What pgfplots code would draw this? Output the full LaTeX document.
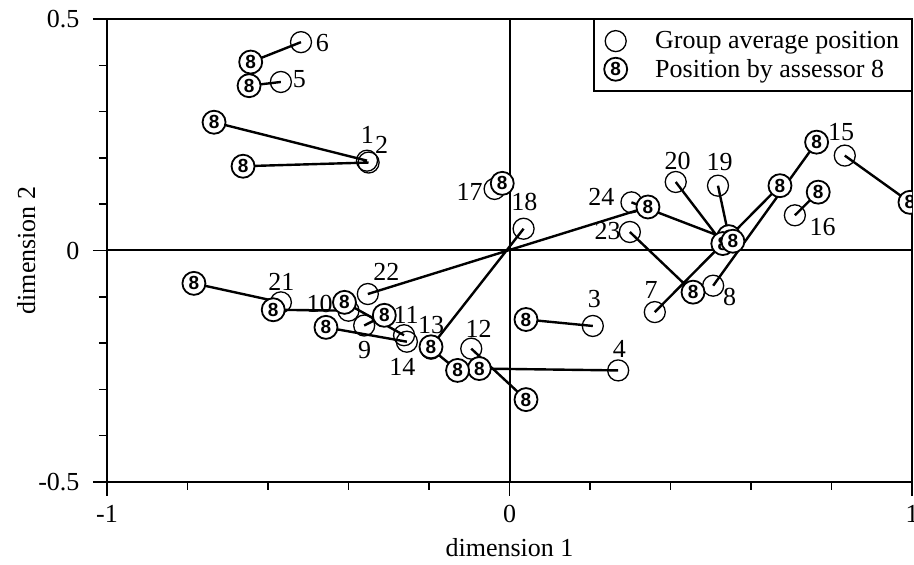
\documentclass[border=0pt]{standalone}
\usepackage{fontspec}
\setmainfont{Liberation Serif}
\newfontfamily\markfont{Liberation Sans}
\usepackage{pgfplots}
\usepackage{pgfplotstable}
\pgfplotsset{compat=1.18}

% circled "8": position given by assessor 8
\pgfdeclareplotmark{assessor}{%
  \pgfpathcircle{\pgfpointorigin}{\pgfplotmarksize}%
  \pgfusepathqfillstroke
  \pgftext{\markfont\bfseries\fontsize{19}{19}\selectfont 8}%
}

% group average positions of the 24 products
\pgfplotstableread{
x y
-0.354 0.194
-0.350 0.190
0.207 -0.163
0.270 -0.259
-0.568 0.364
-0.518 0.450
0.361 -0.133
0.506 -0.076
-0.361 -0.162
-0.400 -0.130
-0.262 -0.183
-0.095 -0.212
-0.195 -0.212
-0.255 -0.197
0.833 0.205
0.709 0.076
-0.037 0.133
0.035 0.047
0.518 0.140
0.413 0.148
-0.568 -0.112
-0.352 -0.094
0.299 0.040
0.303 0.104
}\avgpos

% positions given by assessor 8 (same product order)
\pgfplotstableread{
x y
-0.734 0.277
-0.662 0.182
0.041 -0.149
-0.075 -0.255
-0.647 0.356
-0.643 0.407
0.672 0.140
0.763 0.234
-0.311 -0.140
-0.587 -0.128
-0.410 -0.112
0.041 -0.322
-0.129 -0.259
-0.456 -0.166
0.995 0.104
0.767 0.126
-0.018 0.145
-0.195 -0.208
0.545 0.030
0.530 0.015
-0.784 -0.071
0.344 0.094
0.456 -0.090
0.555 0.020
}\assessorpos

% product numbers
\pgfplotstableread{
x y lab
-0.353 0.250 1
-0.318 0.228 2
0.211 -0.104 3
0.273 -0.212 4
-0.522 0.371 5
-0.465 0.449 6
0.352 -0.086 7
0.547 -0.101 8
-0.360 -0.216 9
-0.472 -0.115 10
-0.257 -0.140 11
-0.077 -0.169 12
-0.195 -0.160 13
-0.266 -0.252 14
0.824 0.256 15
0.778 0.050 16
-0.099 0.126 17
0.037 0.104 18
0.522 0.191 19
0.418 0.194 20
-0.567 -0.068 21
-0.306 -0.047 22
0.244 0.043 23
0.228 0.115 24
}\prodlabels

\begin{document}
\begin{tikzpicture}
\begin{axis}[
  scale only axis,
  width=805pt, height=463pt,
  xmin=-1, xmax=1, ymin=-0.5, ymax=0.5,
  xtick={-1,0,1}, xticklabels={{-1},{0},{1}},
  ytick={-0.5,0,0.5}, yticklabels={{-0.5},{0},{0.5}},
  minor xtick={-0.8,-0.6,-0.4,-0.2,0.2,0.4,0.6,0.8},
  minor ytick={-0.4,-0.3,-0.2,-0.1,0.1,0.2,0.3,0.4},
  xtick pos=bottom, ytick pos=left,
  tick align=outside,
  major tick length=14pt, minor tick length=8pt,
  every tick/.style={black, line width=1.5pt},
  axis line style={line width=2pt},
  tick label style={font=\fontsize{26}{30}\selectfont},
  xticklabel style={yshift=-6pt},
  yticklabel style={xshift=-10pt},
  label style={font=\fontsize{26}{30}\selectfont},
  xlabel={dimension 1}, ylabel={dimension 2},
  xlabel style={yshift=-9pt},
  ylabel style={yshift=-4pt},
  clip marker paths=true,
  legend style={at={(1,1)}, anchor=north east, draw=black, line width=1.5pt,
    font=\fontsize{26}{30}\selectfont, inner xsep=10pt, inner ysep=10pt,
    row sep=5pt,
    /tikz/every odd column/.append style={column sep=26pt}},
  legend cell align=left,
]
% reference lines through the origin
\addplot[black, line width=2pt, forget plot] coordinates {(-1,0) (1,0)};
\addplot[black, line width=2pt, forget plot] coordinates {(0,-0.5) (0,0.5)};

% each product: group average joined to the assessor's position
\addplot[black, line width=2.4pt, unbounded coords=jump, forget plot] coordinates {
(-0.354,0.194) (-0.734,0.277) (nan,nan)
(-0.350,0.190) (-0.662,0.182) (nan,nan)
(0.207,-0.163) (0.041,-0.149) (nan,nan)
(0.270,-0.259) (-0.075,-0.255) (nan,nan)
(-0.568,0.364) (-0.647,0.356) (nan,nan)
(-0.518,0.450) (-0.643,0.407) (nan,nan)
(0.361,-0.133) (0.672,0.140) (nan,nan)
(0.506,-0.076) (0.763,0.234) (nan,nan)
(-0.361,-0.162) (-0.311,-0.140) (nan,nan)
(-0.400,-0.130) (-0.587,-0.128) (nan,nan)
(-0.262,-0.183) (-0.410,-0.112) (nan,nan)
(-0.095,-0.212) (0.041,-0.322) (nan,nan)
(-0.195,-0.212) (-0.129,-0.259) (nan,nan)
(-0.255,-0.197) (-0.456,-0.166) (nan,nan)
(0.833,0.205) (0.995,0.104) (nan,nan)
(0.709,0.076) (0.767,0.126) (nan,nan)
(-0.037,0.133) (-0.018,0.145) (nan,nan)
(0.035,0.047) (-0.195,-0.208) (nan,nan)
(0.518,0.140) (0.545,0.030) (nan,nan)
(0.413,0.148) (0.530,0.015) (nan,nan)
(-0.568,-0.112) (-0.784,-0.071) (nan,nan)
(-0.352,-0.094) (0.344,0.094) (nan,nan)
(0.299,0.040) (0.456,-0.090) (nan,nan)
(0.303,0.104) (0.555,0.020)
};

\addplot[only marks, mark=o, mark size=10.5pt, mark options={line width=1.3pt, black}]
  table {\avgpos};
\addlegendentry{Group average position}
\addplot[only marks, mark=assessor, mark size=11.5pt,
  mark options={line width=1.8pt, draw=black, fill=white}]
  table {\assessorpos};
\addlegendentry{Position by assessor 8}

\addplot[only marks, mark=none, forget plot, point meta=explicit symbolic,
  nodes near coords, nodes near coords style={anchor=center, inner sep=0pt,
  font=\fontsize{26}{30}\selectfont}]
  table[meta=lab] {\prodlabels};
\end{axis}
\pgfresetboundingbox
\path (-107pt,-83pt) rectangle (807pt,482pt);
\end{tikzpicture}
\end{document}
